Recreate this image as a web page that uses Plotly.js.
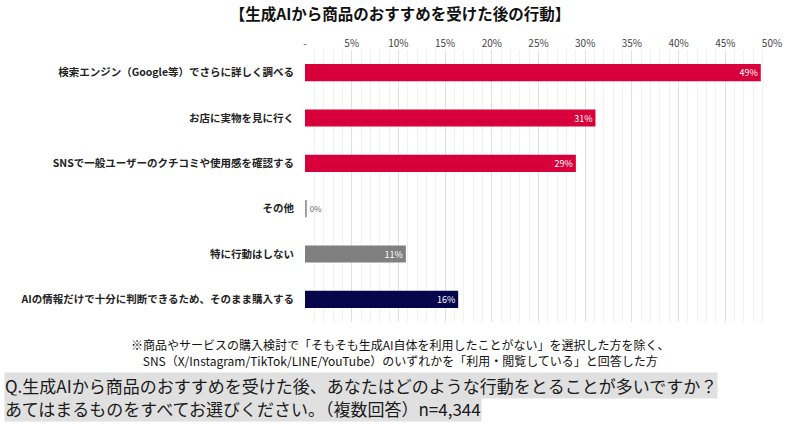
<!DOCTYPE html>
<html>
<head>
<meta charset="utf-8">
<script src="https://cdn.plot.ly/plotly-3.0.1.min.js"></script>
<style>
  html, body { margin: 0; padding: 0; background: #fff; }
  #chart { width: 800px; height: 425px; }
</style>
</head>
<body>
<div id="chart"></div>
<script>
// categories, top to bottom
var categories = [
    '検索エンジン（Google等）でさらに詳しく調べる',
    'お店に実物を見に行く',
    'SNSで一般ユーザーのクチコミや使用感を確認する',
    'その他',
    '特に行動はしない',
    'AIの情報だけで十分に判断できるため、そのまま購入する'
];
var values = [48.8, 31.1, 29.0, 0.2, 10.8, 16.4];
var barColours = ['#d8003a', '#d8003a', '#d8003a', '#9a9a9a', '#808080', '#06064c'];
var labelPos = ['inside', 'inside', 'inside', 'outside', 'inside', 'inside'];

var tickVals = [0, 5, 10, 15, 20, 25, 30, 35, 40, 45, 50];
var tickText = ['-', '5%', '10%', '15%', '20%', '25%', '30%', '35%', '40%', '45%', '50%'];

var jp = '"Noto Sans CJK JP", "Noto Sans", sans-serif';

var trace1 = {
    x: values,
    y: categories,
    type: 'bar',
    orientation: 'h',
    width: 0.38,
    marker: {
        color: barColours,
        line: { width: 0 }
    },
    texttemplate: '%{x:.0f}%',
    textposition: labelPos,
    insidetextanchor: 'end',
    constraintext: 'none',
    insidetextfont: { family: jp, size: 9, color: '#ffffff' },
    outsidetextfont: { family: jp, size: 8, color: '#666666' },
    cliponaxis: false,
    hoverinfo: 'skip'
};

var layout = {
    width: 800,
    height: 425,
    font: { family: jp, size: 11, color: '#333' },
    title: {
        text: '<b>【生成AIから商品のおすすめを受けた後の行動】</b>',
        font: { family: jp, size: 15.5, color: '#111' },
        x: 0.5,
        xanchor: 'center',
        y: 0.965,
        yanchor: 'middle'
    },
    margin: { l: 305, r: 28, t: 50, b: 103 },
    showlegend: false,
    xaxis: {
        side: 'top',
        range: [0, 50],
        tickvals: tickVals,
        ticktext: tickText,
        tickfont: { family: jp, size: 10, color: '#444' },
        ticks: '',
        showgrid: true,
        gridcolor: '#e0e0e0',
        gridwidth: 1,
        minor: { dtick: 1, showgrid: true, gridcolor: '#f1f1f1', gridwidth: 1 },
        zeroline: false,
        showline: false,
        fixedrange: true
    },
    yaxis: {
        autorange: 'reversed',
        tickfont: { family: jp, size: 10.5, color: '#222', weight: 700 },
        ticks: '',
        ticklabelstandoff: 10,
        showgrid: false,
        zeroline: false,
        showline: false,
        fixedrange: true
    },
    annotations: [
        {
            text: '※商品やサービスの購入検討で「そもそも生成AI自体を利用したことがない」を選択した方を除く、<br>SNS（X/Instagram/TikTok/LINE/YouTube）のいずれかを「利用・閲覧している」と回答した方',
            xref: 'paper', yref: 'paper',
            x: 0.205, y: -0.113,
            xanchor: 'center', yanchor: 'middle',
            showarrow: false,
            align: 'center',
            font: { family: jp, size: 12, color: '#111' }
        },
        {
            text: 'Q.生成AIから商品のおすすめを受けた後、あなたはどのような行動をとることが多いですか？',
            xref: 'paper', yref: 'paper',
            x: -0.645, y: -0.234,
            xanchor: 'left', yanchor: 'middle',
            showarrow: false,
            bgcolor: '#e0e0e0',
            borderpad: 0,
            font: { family: jp, size: 17, color: '#1a1a1a' }
        },
        {
            text: 'あてはまるものをすべてお選びください。（複数回答）n=4,344',
            xref: 'paper', yref: 'paper',
            x: -0.645, y: -0.318,
            xanchor: 'left', yanchor: 'middle',
            showarrow: false,
            bgcolor: '#e0e0e0',
            borderpad: 0,
            font: { family: jp, size: 17, color: '#1a1a1a' }
        }
    ],
    plot_bgcolor: '#ffffff',
    paper_bgcolor: '#ffffff'
};

var config = { displayModeBar: false, staticPlot: true };

Plotly.newPlot('chart', [trace1], layout, config);
</script>
</body>
</html>
